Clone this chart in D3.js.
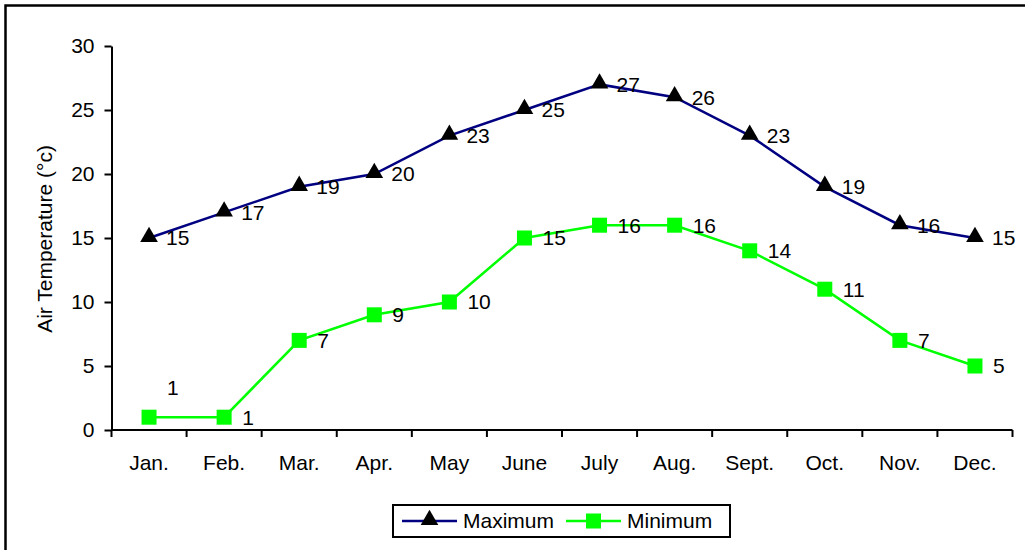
<!DOCTYPE html>
<html>
<head>
<meta charset="utf-8">
<script src="https://cdn.jsdelivr.net/npm/d3@7"></script>
<style>
  html, body { margin: 0; padding: 0; background: #fff; overflow: hidden; }
  svg { display: block; font-family: "Liberation Sans", Arial, sans-serif; }
</style>
</head>
<body>
<svg id="chart" width="1025" height="550"></svg>
<script>
// Monthly air temperature (°C)
const months = ["Jan.", "Feb.", "Mar.", "Apr.", "May", "June", "July", "Aug.", "Sept.", "Oct.", "Nov.", "Dec."];
const maximum = [15, 17, 19, 20, 23, 25, 27, 26, 23, 19, 16, 15];
const minimum = [1, 1, 7, 9, 10, 15, 16, 16, 14, 11, 7, 5];
const yTicks = [0, 5, 10, 15, 20, 25, 30];
const seriesNames = ["Maximum", "Minimum"];

const svg = d3.select("#chart");
const FONT = 21;

// outer frame
svg.append("rect")
  .attr("x", 5.5).attr("y", 5.5)
  .attr("width", 1100).attr("height", 1000)
  .attr("fill", "none").attr("stroke", "#000").attr("stroke-width", 2.5);

const x = d3.scaleBand().domain(months).range([111.5, 1012.5]).padding(0);
const y = d3.scaleLinear().domain([0, 30]).range([430, 46]);
const cx = m => x(m) + x.bandwidth() / 2;

// y axis
const yAxis = svg.append("g").attr("transform", "translate(111.5,0)")
  .call(d3.axisLeft(y).tickValues(yTicks).tickSize(7).tickPadding(10).tickSizeOuter(0));
yAxis.select(".domain").attr("stroke", "#000").attr("stroke-width", 2);
yAxis.selectAll(".tick line").attr("stroke", "#000").attr("stroke-width", 2);
yAxis.selectAll(".tick text").attr("font-size", FONT).attr("font-family", "Liberation Sans, Arial, sans-serif").attr("fill", "#000");

// x axis with ticks at category boundaries
const xAxisG = svg.append("g").attr("transform", "translate(0,430)");
xAxisG.append("line")
  .attr("x1", x.range()[0]).attr("x2", x.range()[1])
  .attr("stroke", "#000").attr("stroke-width", 2);
const bounds = months.map(m => x(m)).concat([x.range()[1]]);
xAxisG.selectAll("line.tk").data(bounds).join("line").attr("class", "tk")
  .attr("x1", d => d).attr("x2", d => d).attr("y1", 0).attr("y2", 7)
  .attr("stroke", "#000").attr("stroke-width", 2);
xAxisG.selectAll("text").data(months).join("text")
  .attr("x", d => cx(d)).attr("y", 33)
  .attr("text-anchor", "middle").attr("dy", "0.35em")
  .attr("font-size", FONT).text(d => d);

// y axis title
svg.append("text")
  .attr("transform", "translate(45,239) rotate(-90)")
  .attr("text-anchor", "middle").attr("dy", "0.35em")
  .attr("font-size", FONT).text("Air Temperature (°c)");

const line = d3.line().x((d, i) => cx(months[i])).y(d => y(d));

// maximum series
svg.append("path").datum(maximum).attr("d", line)
  .attr("fill", "none").attr("stroke", "#000080").attr("stroke-width", 2.5);
const tri = d3.symbol().type(d3.symbolTriangle).size(135);
svg.selectAll("path.tri").data(maximum).join("path").attr("class", "tri")
  .attr("transform", (d, i) => `translate(${cx(months[i])},${y(d) - 1})`)
  .attr("d", tri).attr("fill", "#000");

// minimum series
svg.append("path").datum(minimum).attr("d", line)
  .attr("fill", "none").attr("stroke", "#00FF00").attr("stroke-width", 2.5);
svg.selectAll("rect.sq").data(minimum).join("rect").attr("class", "sq")
  .attr("x", (d, i) => cx(months[i]) - 7.5).attr("y", d => y(d) - 7.5)
  .attr("width", 15).attr("height", 15).attr("fill", "#00FF00");

// data labels
const labelOffset = (series, i) => (series === "min" && i === 0) ? -30 : 0;
svg.selectAll("text.lmax").data(maximum).join("text").attr("class", "lmax")
  .attr("x", (d, i) => cx(months[i]) + 17).attr("y", d => y(d))
  .attr("dy", "0.35em").attr("font-size", FONT).text(d => d);
svg.selectAll("text.lmin").data(minimum).join("text").attr("class", "lmin")
  .attr("x", (d, i) => cx(months[i]) + 18).attr("y", (d, i) => y(d) + labelOffset("min", i))
  .attr("dy", "0.35em").attr("font-size", FONT).text(d => d);

// legend
const lg = svg.append("g");
lg.append("rect").attr("x", 393).attr("y", 505).attr("width", 337).attr("height", 32)
  .attr("fill", "#fff").attr("stroke", "#000").attr("stroke-width", 2);
const legendItems = [
  { name: seriesNames[0], color: "#000080", x0: 402, marker: "tri" },
  { name: seriesNames[1], color: "#00FF00", x0: 566, marker: "sq" }
];
legendItems.forEach(it => {
  lg.append("line").attr("x1", it.x0).attr("x2", it.x0 + 55).attr("y1", 521).attr("y2", 521)
    .attr("stroke", it.color).attr("stroke-width", 2.5);
  if (it.marker === "tri") {
    lg.append("path").attr("transform", `translate(${it.x0 + 27.5},520)`).attr("d", tri).attr("fill", "#000");
  } else {
    lg.append("rect").attr("x", it.x0 + 27.5 - 7.5).attr("y", 513.5).attr("width", 15).attr("height", 15).attr("fill", it.color);
  }
  lg.append("text").attr("x", it.x0 + 61).attr("y", 521).attr("dy", "0.35em")
    .attr("font-size", FONT).text(it.name);
});
</script>
</body>
</html>
